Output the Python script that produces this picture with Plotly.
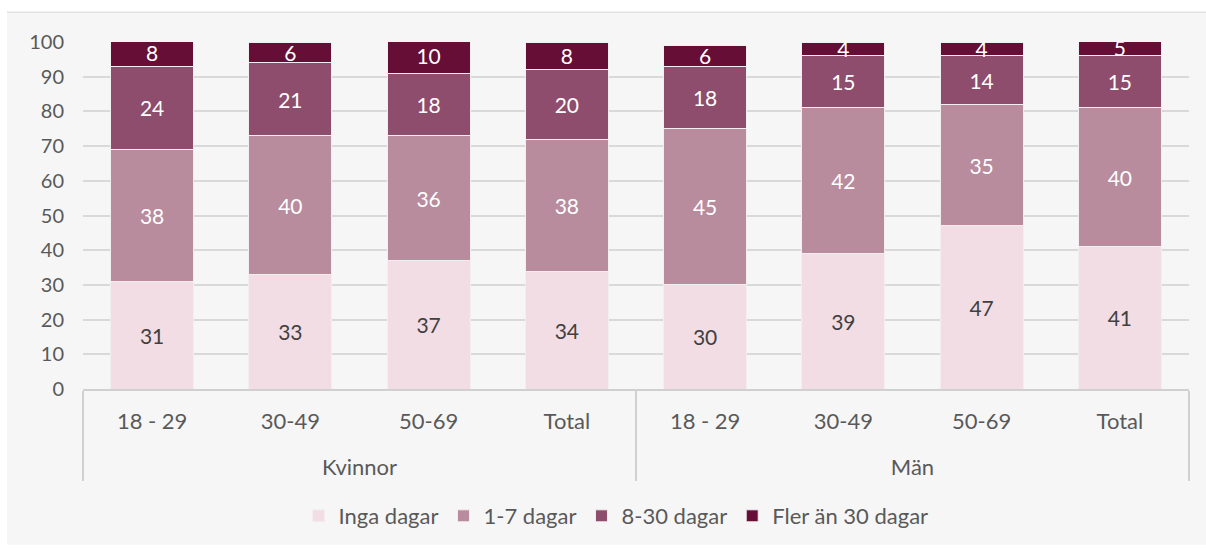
import plotly.graph_objects as go

# Survey shares (%) by sex and age group
groups = ["Kvinnor"] * 4 + ["Män"] * 4
ages = ["18 - 29", "30-49", "50-69", "Total"] * 2

inga_dagar = [31, 33, 37, 34, 30, 39, 47, 41]
dagar_1_7 = [38, 40, 36, 38, 45, 42, 35, 40]
dagar_8_30 = [24, 21, 18, 20, 18, 15, 14, 15]
fler_an_30 = [8, 6, 10, 8, 6, 4, 4, 5]

series = [
    ("Inga dagar", inga_dagar, "#f2dde4", "#404040"),
    ("1-7 dagar", dagar_1_7, "#b88b9d", "white"),
    ("8-30 dagar", dagar_8_30, "#8e4d6c", "white"),
    ("Fler än 30 dagar", fler_an_30, "#670e37", "white"),
]

FONT = "Lato"
FS_AXIS = 20
FS_CAT = 22
FS_LABEL = 21
# group labels sit one line lower, leaving room under the age labels
group_labels = ["<br>" + g for g in groups]

fig = go.Figure()
for name, vals, color, tcolor in series:
    fig.add_trace(go.Bar(
        name=name,
        x=[group_labels, ages],
        y=vals,
        marker=dict(color=color, line=dict(color="#f3eef0", width=1)),
        text=[str(v) for v in vals],
        textposition="inside",
        insidetextanchor="middle",
        textangle=0,
        textfont=dict(family=FONT, size=FS_LABEL, color=tcolor),
        cliponaxis=True,
    ))

fig.update_layout(
    barmode="stack",
    bargap=0.4,
    width=1206,
    height=549,
    margin=dict(l=83, r=17, t=42, b=157),
    paper_bgcolor="white",
    plot_bgcolor="rgba(0,0,0,0)",
    font=dict(family=FONT, size=FS_AXIS, color="#595959"),
    uniformtext=dict(minsize=FS_LABEL, mode="show"),
    showlegend=True,
    legend=dict(
        orientation="h",
        traceorder="normal",
        x=0.482, xanchor="center",
        y=-0.366, yanchor="middle",
        font=dict(family=FONT, size=FS_CAT, color="#595959"),
        bgcolor="rgba(0,0,0,0)",
        itemwidth=30,
    ),
    shapes=[
        dict(type="rect", xref="paper", yref="paper", layer="below",
             x0=-76 / 1106, x1=1.02, y0=-157 / 350, y1=(392 - 12) / 350,
             fillcolor="#f6f6f6", line=dict(width=0)),
        dict(type="line", xref="paper", yref="paper", layer="below",
             x0=-76 / 1106, x1=1.02, y0=(392 - 12) / 350, y1=(392 - 12) / 350,
             line=dict(color="#e2e2e2", width=1.5)),
    ],
)

fig.update_yaxes(
    range=[0, 100],
    dtick=10,
    showgrid=True,
    gridcolor="#d9d9d9",
    gridwidth=1.5,
    zeroline=False,
    showline=False,
    ticks="",
    ticklabelstandoff=18,
    tickfont=dict(family=FONT, size=FS_AXIS, color="#595959"),
)

fig.update_xaxes(
    type="multicategory",
    showline=True,
    linecolor="#d0d0d0",
    linewidth=1.5,
    showgrid=False,
    ticks="",
    ticklabelstandoff=12,
    showdividers=True,
    dividercolor="#d0d0d0",
    dividerwidth=1.5,
    tickfont=dict(family=FONT, size=FS_CAT, color="#595959"),
)

fig.write_html("out.html")
